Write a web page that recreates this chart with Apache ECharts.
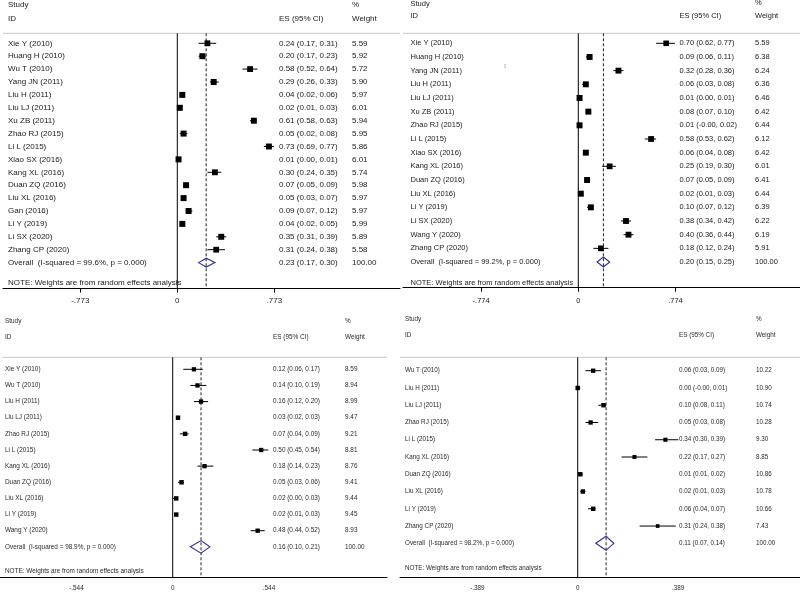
<!DOCTYPE html>
<html><head><meta charset="utf-8">
<script src="https://cdn.jsdelivr.net/npm/echarts@6/dist/echarts.min.js"></script>
<style>html,body{margin:0;padding:0;background:#fff}#c{width:800px;height:592px}</style>
</head><body><div id="c"></div>
<script>
// ---------- Panel A (top-left) ----------
const aStudies = ['Xie Y (2010)','Huang H (2010)','Wu T (2010)','Yang JN (2011)','Liu H (2011)','Liu LJ (2011)','Xu ZB (2011)','Zhao RJ (2015)','Li L (2015)','Xiao SX (2016)','Kang XL (2016)','Duan ZQ (2016)','Liu XL (2016)','Gan (2016)','Li Y (2019)','Li SX (2020)','Zhang CP (2020)'];
const aES = [0.24,0.20,0.58,0.29,0.04,0.02,0.61,0.05,0.73,0.01,0.30,0.07,0.05,0.09,0.04,0.35,0.31];
const aLo = [0.17,0.17,0.52,0.26,0.02,0.01,0.58,0.02,0.69,0.00,0.24,0.05,0.03,0.07,0.02,0.31,0.24];
const aHi = [0.31,0.23,0.64,0.33,0.06,0.03,0.63,0.08,0.77,0.01,0.35,0.09,0.07,0.12,0.05,0.39,0.38];
const aWeight = [5.59,5.92,5.72,5.90,5.97,6.01,5.94,5.95,5.86,6.01,5.74,5.98,5.97,5.97,5.99,5.89,5.58];
const aOverall = [0.23,0.17,0.30];
const aI2 = '99.6%';
const aTicks = [-0.773,0,0.773];

// ---------- Panel B (top-right) ----------
const bStudies = ['Xie Y (2010)','Huang H (2010)','Yang JN (2011)','Liu H (2011)','Liu LJ (2011)','Xu ZB (2011)','Zhao RJ (2015)','Li L (2015)','Xiao SX (2016)','Kang XL (2016)','Duan ZQ (2016)','Liu XL (2016)','Li Y (2019)','Li SX (2020)','Wang Y (2020)','Zhang CP (2020)'];
const bES = [0.70,0.09,0.32,0.06,0.01,0.08,0.01,0.58,0.06,0.25,0.07,0.02,0.10,0.38,0.40,0.18];
const bLo = [0.62,0.06,0.28,0.03,0.00,0.07,-0.003,0.53,0.04,0.19,0.05,0.01,0.07,0.34,0.36,0.12];
const bHi = [0.77,0.11,0.36,0.08,0.01,0.10,0.02,0.62,0.08,0.30,0.09,0.03,0.12,0.42,0.44,0.24];
const bWeight = [5.59,6.38,6.24,6.36,6.46,6.42,6.44,6.12,6.42,6.01,6.41,6.44,6.39,6.22,6.19,5.91];
const bOverall = [0.20,0.15,0.25];
const bI2 = '99.2%';
const bTicks = [-0.774,0,0.774];

// ---------- Panel C (bottom-left) ----------
const cStudies = ['Xie Y (2010)','Wu T (2010)','Liu H (2011)','Liu LJ (2011)','Zhao RJ (2015)','Li L (2015)','Kang XL (2016)','Duan ZQ (2016)','Liu XL (2016)','Li Y (2019)','Wang Y (2020)'];
const cES = [0.12,0.14,0.16,0.03,0.07,0.50,0.18,0.05,0.02,0.02,0.48];
const cLo = [0.06,0.10,0.12,0.02,0.04,0.45,0.14,0.03,0.00,0.01,0.44];
const cHi = [0.17,0.19,0.20,0.03,0.09,0.54,0.23,0.06,0.03,0.03,0.52];
const cWeight = [8.59,8.94,8.99,9.47,9.21,8.81,8.76,9.41,9.44,9.45,8.93];
const cOverall = [0.16,0.10,0.21];
const cI2 = '98.9%';
const cTicks = [-0.544,0,0.544];

// ---------- Panel D (bottom-right) ----------
const dStudies = ['Wu T (2010)','Liu H (2011)','Liu LJ (2011)','Zhao RJ (2015)','Li L (2015)','Kang XL (2016)','Duan ZQ (2016)','Liu XL (2016)','Li Y (2019)','Zhang CP (2020)'];
const dES = [0.06,0.00,0.10,0.05,0.34,0.22,0.01,0.02,0.06,0.31];
const dLo = [0.03,-0.003,0.08,0.03,0.30,0.17,0.01,0.01,0.04,0.24];
const dHi = [0.09,0.01,0.11,0.08,0.39,0.27,0.02,0.03,0.07,0.38];
const dWeight = [10.22,10.90,10.74,10.28,9.30,8.85,10.86,10.78,10.66,7.43];
const dOverall = [0.11,0.07,0.14];
const dI2 = '98.2%';
const dTicks = [-0.389,0,0.389];

const NOTE = 'NOTE: Weights are from random effects analysis';
const FONT = '"Liberation Sans", Arial, Helvetica, sans-serif';

const panels = [
 {studies:aStudies, es:aES, lo:aLo, hi:aHi, w:aWeight, ov:aOverall, i2:aI2, ticks:aTicks,
  L:{left:3,right:400,top:33.3,bottom:288.5,x0:177.3,ppu:125.5,row0:43.3,step:12.9,fs:8,tickFs:8,margin:8,
     labelX:8,esX:279,wX:352,yStudy:5,yId:18.3,yPct:4.5,noteRow:18.56,sq:2.45,dh:4.4,ticks:true,color:'#1a1a1a',hl:[3,400]}},
 {studies:bStudies, es:bES, lo:bLo, hi:bHi, w:bWeight, ov:bOverall, i2:bI2, ticks:bTicks,
  L:{left:403,right:800,top:33.3,bottom:287.7,x0:578.3,ppu:125.5,row0:43.3,step:13.67,fs:7.5,tickFs:7.5,margin:9,
     labelX:410.5,esX:679.5,wX:755,yStudy:3.7,yId:16,yPct:3,noteRow:17.5,sq:2.35,dh:5,ticks:true,color:'#1a1a1a',hl:[403,800]}},
 {studies:cStudies, es:cES, lo:cLo, hi:cHi, w:cWeight, ov:cOverall, i2:cI2, ticks:cTicks,
  L:{left:0,right:387,top:357.3,bottom:577.7,x0:172.7,ppu:177,row0:369.3,step:16.14,fs:6.4,tickFs:6.4,margin:8,
     labelX:5,esX:273,wX:345,yStudy:321,yId:337.7,yPct:321,noteRow:12.52,sq:1.45,dh:6.3,ticks:false,color:'#2a2a2a',hl:[2,387]}},
 {studies:dStudies, es:dES, lo:dLo, hi:dHi, w:dWeight, ov:dOverall, i2:dI2, ticks:dTicks,
  L:{left:400,right:800,top:357.3,bottom:577,x0:577.7,ppu:258,row0:370.7,step:17.26,fs:6.3,tickFs:6.3,margin:8,
     labelX:405,esX:679,wX:756,yStudy:319,yId:335,yPct:319,noteRow:11.45,sq:1.35,dh:7,ticks:false,color:'#2a2a2a',hl:[400,800]}}
];

function fmtTick(v){
  if (Math.abs(v) < 1e-9) return '0';
  return (v < 0 ? '-' : '') + Math.abs(v).toFixed(3).replace(/^0/, '');
}
function ciText(e,l,h){ return e.toFixed(2)+' ('+l.toFixed(2)+', '+h.toFixed(2)+')'; }

const grids=[], xAxes=[], yAxes=[], series=[], graphic=[];

panels.forEach(function(P, gi){
  const L = P.L;
  const xMin = (L.left - L.x0)/L.ppu, xMax = (L.right - L.x0)/L.ppu;
  const yMin = (L.top - L.row0)/L.step, yMax = (L.bottom - L.row0)/L.step;
  const n = P.studies.length;
  grids.push({left:L.left, top:L.top, width:L.right-L.left, height:L.bottom-L.top, containLabel:false, outerBoundsMode:'none'});
  xAxes.push({gridIndex:gi, type:'value', min:xMin, max:xMax,
    axisLine:{show:true, onZero:false, lineStyle:{color:'#000', width:1}},
    axisTick:{show:L.ticks, customValues:P.ticks, length:4, lineStyle:{color:'#000', width:1}},
    axisLabel:{customValues:P.ticks, formatter:fmtTick, fontSize:L.tickFs, color:L.color, margin:L.margin, fontFamily:FONT},
    splitLine:{show:false}});
  yAxes.push({gridIndex:gi, type:'value', inverse:true, min:yMin, max:yMax, show:false});

  // reference lines: null line at 0, dashed line at pooled estimate
  series.push({type:'custom', xAxisIndex:gi, yAxisIndex:gi, z:1, silent:true, animation:false,
    data:[[0,0],[P.ov[0],1]], encode:{x:0, y:1},
    renderItem:function(params, api){
      const v = api.value(0);
      const p1 = api.coord([v, yMin]), p2 = api.coord([v, yMax]);
      const dashed = params.dataIndex === 1;
      return {type:'line', shape:{x1:p1[0], y1:p1[1], x2:p2[0], y2:p2[1]},
        style:{stroke: dashed ? '#222' : '#000', lineWidth: 1, lineDash: dashed ? [3,2] : null}};
    }});

  // study estimates
  series.push({type:'custom', xAxisIndex:gi, yAxisIndex:gi, z:3, silent:true, animation:false,
    data:P.studies.map(function(s,k){ return [P.es[k], P.lo[k], P.hi[k], P.w[k], k]; }),
    encode:{x:[0,1,2], y:4},
    renderItem:function(params, api){
      const e=api.value(0), l=api.value(1), h=api.value(2), w=api.value(3), r=api.value(4);
      const pc=api.coord([e,r]), pl=api.coord([l,r]), ph=api.coord([h,r]);
      const s = L.sq*Math.sqrt(w);
      return {type:'group', children:[
        {type:'line', shape:{x1:pl[0], y1:pc[1], x2:ph[0], y2:pc[1]}, style:{stroke:'#000', lineWidth:1}},
        {type:'rect', shape:{x:pc[0]-s/2, y:pc[1]-s/2, width:s, height:s}, style:{fill:'#000'}}
      ]};
    }});

  // pooled diamond
  series.push({type:'custom', xAxisIndex:gi, yAxisIndex:gi, z:3, silent:true, animation:false,
    data:[[P.ov[0], P.ov[1], P.ov[2], n]], encode:{x:[0,1,2], y:3},
    renderItem:function(params, api){
      const e=api.value(0), l=api.value(1), h=api.value(2), r=api.value(3);
      const pc=api.coord([e,r]), pl=api.coord([l,r]), ph=api.coord([h,r]);
      return {type:'polygon', shape:{points:[[pl[0],pc[1]],[pc[0],pc[1]-L.dh],[ph[0],pc[1]],[pc[0],pc[1]+L.dh]]},
        style:{fill:'rgba(0,0,0,0)', stroke:'#2d2f8e', lineWidth:1.1}};
    }});

  // text columns
  const labels = P.studies.concat(['Overall  (I-squared = '+P.i2+', p = 0.000)', NOTE]);
  const esTxt = P.studies.map(function(s,k){ return ciText(P.es[k],P.lo[k],P.hi[k]); }).concat([ciText(P.ov[0],P.ov[1],P.ov[2]), '']);
  const wTxt = P.w.map(function(v){ return v.toFixed(2); }).concat(['100.00', '']);
  const rows = P.studies.map(function(s,k){ return [0,k]; }).concat([[0,n],[0,L.noteRow]]);
  series.push({type:'custom', xAxisIndex:gi, yAxisIndex:gi, z:4, silent:true, animation:false,
    data:rows, encode:{x:0, y:1},
    renderItem:function(params, api){
      const i = params.dataIndex;
      const y = api.coord([0, api.value(1)])[1];
      function t(str, x){ return {type:'text', x:x, y:y, style:{text:str, fill:L.color, fontSize:L.fs, fontFamily:FONT, align:'left', verticalAlign:'middle'}}; }
      const ch = [t(labels[i], L.labelX)];
      if (esTxt[i]) ch.push(t(esTxt[i], L.esX));
      if (wTxt[i]) ch.push(t(wTxt[i], L.wX));
      return {type:'group', children:ch};
    }});

  // header texts and rule
  function ht(str, x, y){ return {type:'text', x:x, y:y, silent:true, style:{text:str, fill:L.color, fontSize:L.fs, fontFamily:FONT, align:'left', verticalAlign:'middle'}}; }
  graphic.push(ht('Study', L.labelX, L.yStudy));
  graphic.push(ht('ID', L.labelX, L.yId));
  graphic.push(ht('ES (95% CI)', L.esX, L.yId));
  graphic.push(ht('%', L.wX, L.yPct));
  graphic.push(ht('Weight', L.wX, L.yId));
  graphic.push({type:'line', silent:true, shape:{x1:L.hl[0], y1:L.top, x2:L.hl[1], y2:L.top}, style:{stroke:'#c8c8c8', lineWidth:1}});
});

// small stray mark present in the original top-right panel
graphic.push({type:'text', x:505, y:67, silent:true, style:{text:'0', fill:'#b0b0b0', fontSize:4.5, fontFamily:FONT, align:'center', verticalAlign:'middle'}});

const chart = echarts.init(document.getElementById('c'), null, {renderer:'canvas'});
chart.setOption({
  animation:false,
  backgroundColor:'#fff',
  grid:grids, xAxis:xAxes, yAxis:yAxes, series:series, graphic:graphic
});
</script>
</body></html>
